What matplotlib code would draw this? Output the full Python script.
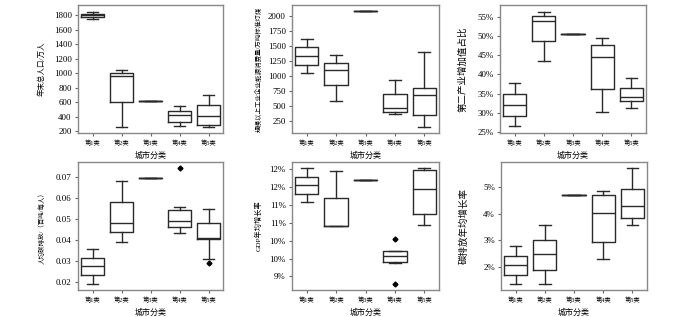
import matplotlib
matplotlib.use("Agg")
import matplotlib.pyplot as plt

plt.rcParams['font.family'] = ['Liberation Serif', 'Noto Sans CJK SC', 'DejaVu Sans']

categories = ["第1类", "第2类", "第3类", "第4类", "第5类"]

# 每个面板: 下须, 下四分位, 中位数, 上四分位, 上须, 异常值
pop_lo = [1750, 263, 612, 272, 259]
pop_q1 = [1780, 603, 612, 323, 282]
pop_med = [1800, 965, 612, 419, 405]
pop_q3 = [1815, 1002, 612, 474, 561]
pop_hi = [1850, 1048, 612, 552, 704]
pop_fl = [[], [], [], [], []]

eng_lo = [1054, 589, 2071, 381, 162]
eng_q1 = [1190, 845, 2071, 414, 359]
eng_med = [1333, 1097, 2071, 474, 682]
eng_q3 = [1475, 1218, 2071, 709, 807]
eng_hi = [1612, 1354, 2071, 939, 1404]
eng_fl = [[], [], [], [], []]

ind_lo = [26.5, 43.4, 50.6, 30.3, 31.2]
ind_q1 = [29.3, 48.6, 50.6, 36.2, 33.0]
ind_med = [32.1, 53.8, 50.6, 44.5, 34.1]
ind_q3 = [34.9, 55.1, 50.6, 47.6, 36.4]
ind_hi = [37.85, 56.3, 50.6, 49.4, 39.0]
ind_fl = [[], [], [], [], []]

pc_lo = [0.0189, 0.0391, 0.0694, 0.0433, 0.0309]
pc_q1 = [0.0232, 0.0437, 0.0694, 0.0464, 0.0407]
pc_med = [0.0274, 0.0483, 0.0694, 0.0491, 0.0410]
pc_q3 = [0.0316, 0.0580, 0.0694, 0.0543, 0.0479]
pc_hi = [0.0358, 0.0679, 0.0694, 0.0558, 0.0547]
pc_fl = [[], [], [], [0.0741], [0.0292]]

gdp_lo = [11.57, 10.90, 12.19, 9.88, 10.94]
gdp_q1 = [11.81, 10.90, 12.19, 9.89, 11.24]
gdp_med = [12.05, 10.90, 12.19, 10.07, 11.95]
gdp_q3 = [12.29, 11.68, 12.19, 10.21, 12.48]
gdp_hi = [12.54, 12.45, 12.19, 10.21, 12.52]
gdp_fl = [[], [], [], [10.56, 9.28], []]

cg_lo = [1.35, 1.35, 4.69, 2.28, 3.57]
cg_q1 = [1.70, 1.90, 4.69, 2.93, 3.85]
cg_med = [2.06, 2.47, 4.69, 4.01, 4.28]
cg_q3 = [2.40, 3.00, 4.69, 4.71, 4.94]
cg_hi = [2.77, 3.57, 4.69, 4.84, 5.73]
cg_fl = [[], [], [], [], []]

pop_ticks = [200, 400, 600, 800, 1000, 1200, 1400, 1600, 1800]
eng_ticks = [250, 500, 750, 1000, 1250, 1500, 1750, 2000]
ind_ticks = [25, 30, 35, 40, 45, 50, 55]
ind_ticklabels = ["25%", "30%", "35%", "40%", "45%", "50%", "55%"]
pc_ticks = [0.02, 0.03, 0.04, 0.05, 0.06, 0.07]
gdp_ticks = [9.5, 10.0, 10.5, 11.0, 11.5, 12.0, 12.5]
gdp_ticklabels = ["9%", "10%", "10%", "11%", "11%", "12%", "12%"]
cg_ticks = [2, 3, 4, 5]
cg_ticklabels = ["2%", "3%", "4%", "5%"]

def stats(lo, q1, med, q3, hi, fl):
    out = []
    for i in range(len(lo)):
        out.append(dict(whislo=lo[i], q1=q1[i], med=med[i], q3=q3[i],
                        whishi=hi[i], fliers=fl[i], label=categories[i]))
    return out

panels = [
    (stats(pop_lo, pop_q1, pop_med, pop_q3, pop_hi, pop_fl), "年末总人口/万人", 5.4,
     (177, 1942), pop_ticks, None, [78, 5, 223, 133], -0.23),
    (stats(eng_lo, eng_q1, eng_med, eng_q3, eng_hi, eng_fl), "规模以上工业企业能源消费量/万吨标准灯煤", 4.7,
     (59, 2175), eng_ticks, None, [292, 5, 439, 133], -0.205),
    (stats(ind_lo, ind_q1, ind_med, ind_q3, ind_hi, ind_fl), "第二产业增加值占比", 6.8,
     (24.8, 58.0), ind_ticks, ind_ticklabels, [500, 5, 646, 133], -0.225),
    (stats(pc_lo, pc_q1, pc_med, pc_q3, pc_hi, pc_fl), "人均碳排放/（百吨/每人）", 4.7,
     (0.0162, 0.0771), pc_ticks, None, [78, 162, 223, 290], -0.23),
    (stats(gdp_lo, gdp_q1, gdp_med, gdp_q3, gdp_hi, gdp_fl), "GDP年均增长率", 5.2,
     (9.12, 12.70), gdp_ticks, gdp_ticklabels, [292, 162, 439, 290], -0.205),
    (stats(cg_lo, cg_q1, cg_med, cg_q3, cg_hi, cg_fl), "碳排放年均增长率", 6.8,
     (1.13, 5.94), cg_ticks, cg_ticklabels, [501, 162, 647, 290], -0.225),
]

W, H = 700, 317
fig = plt.figure(figsize=(7, 3.17), dpi=100)
lc = "#2a2a2a"
for st, ylab, yfs, ylim, yt, ytl, box, lx in panels:
    x0, y0, x1, y1 = box
    ax = fig.add_axes([x0 / W, 1 - y1 / H, (x1 - x0) / W, (y1 - y0) / H])
    ax.bxp(st, widths=0.8, showfliers=True,
           boxprops=dict(color=lc, linewidth=1.0),
           medianprops=dict(color=lc, linewidth=1.0),
           whiskerprops=dict(color=lc, linewidth=1.0),
           capprops=dict(color=lc, linewidth=1.0),
           flierprops=dict(marker='D', markersize=2.5, markerfacecolor='black',
                           markeredgecolor='black'))
    ax.set_ylim(*ylim)
    ax.set_xlim(0.5, 5.5)
    for s in ax.spines.values():
        s.set_color("#888888")
        s.set_linewidth(1.0)
    ax.tick_params(axis='x', labelsize=4.5, length=2.5, color="#666666", pad=2.5)
    ax.tick_params(axis='y', labelsize=6.4, length=2.5, color="#666666", pad=2)
    ax.set_xticklabels(categories)
    ax.set_yticks(yt)
    if ytl is not None:
        ax.set_yticklabels(ytl)
    ax.set_xlabel("城市分类", fontsize=5.8, labelpad=4)
    ax.set_ylabel(ylab, fontsize=yfs)
    ax.yaxis.set_label_coords(lx, 0.5)

fig.savefig("out.png", dpi=100)
